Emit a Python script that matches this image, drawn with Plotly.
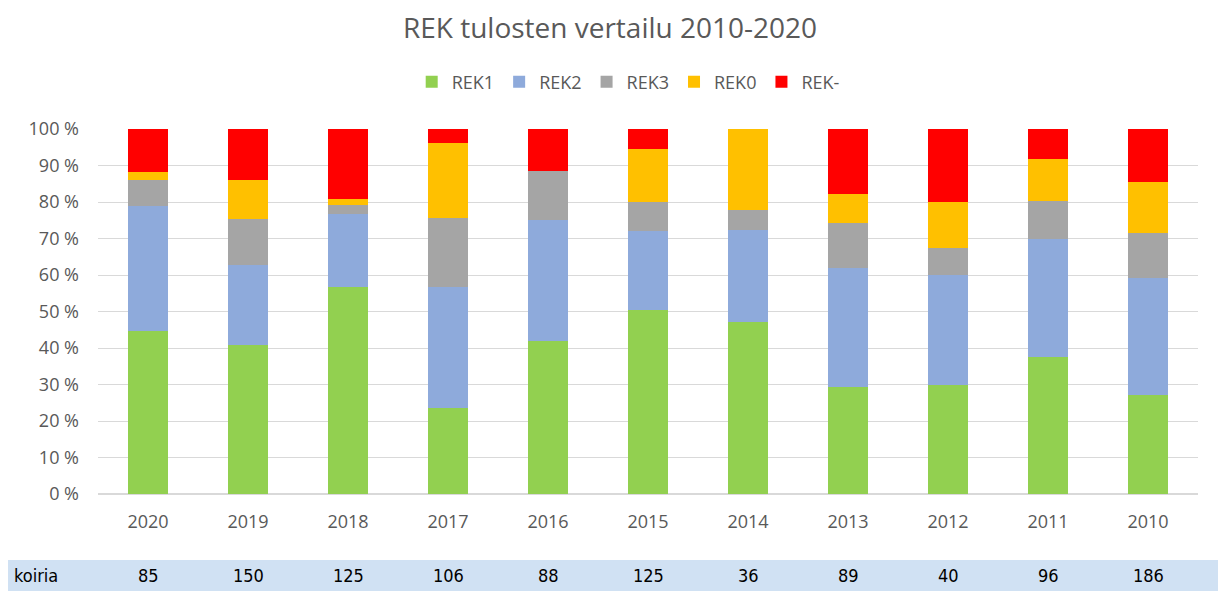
import plotly.graph_objects as go

# years shown left to right
years = ["2020", "2019", "2018", "2017", "2016", "2015", "2014", "2013", "2012", "2011", "2010"]
dogs = [85, 150, 125, 106, 88, 125, 36, 89, 40, 96, 186]

# share of results per year, percent
rek1 = [44.7, 40.7, 56.8, 23.6, 42.0, 50.4, 47.2, 29.2, 30.0, 37.5, 27.1]
rek2 = [34.1, 22.0, 20.0, 33.0, 33.0, 21.6, 25.0, 32.6, 30.0, 32.3, 32.0]
rek3 = [7.1, 12.7, 2.4, 18.9, 13.6, 8.0, 5.6, 12.4, 7.5, 10.4, 12.4]
rek0 = [2.4, 10.7, 1.6, 20.7, 0.0, 14.4, 22.2, 7.9, 12.5, 11.5, 14.0]
rek_minus = [11.8, 14.0, 19.2, 3.8, 11.4, 5.6, 0.0, 18.0, 20.0, 8.3, 14.5]

y_ticks = list(range(0, 101, 10))
y_labels = [f"{v} %" for v in y_ticks]

series = [
    ("REK1", rek1, "#92d050"),
    ("REK2", rek2, "#8eaadb"),
    ("REK3", rek3, "#a5a5a5"),
    ("REK0", rek0, "#ffc000"),
    ("REK-", rek_minus, "#ff0000"),
]

txt = "#595959"
cell_font = dict(
    family="Liberation Sans Narrow, DejaVu Sans Condensed, Liberation Sans, sans-serif",
    size=18, color="#000000",
)

fig = go.Figure()
for name, vals, col in series:
    fig.add_trace(
        go.Bar(
            x=years,
            y=vals,
            name=name,
            marker=dict(color=col, line=dict(width=0)),
            width=0.4,
        )
    )

# bottom table with number of dogs
fig.add_shape(
    type="rect", xref="paper", yref="paper",
    x0=-0.1, x1=1.03, y0=-97 / 365, y1=-66 / 365,
    fillcolor="#d0e1f3", line=dict(width=0), layer="below",
)
fig.add_annotation(
    text="koiria", xref="paper", yref="paper", x=-86 / 1100, y=-81 / 365,
    xanchor="left", yanchor="middle", showarrow=False, font=cell_font,
)
for i, n in enumerate(dogs):
    fig.add_annotation(
        text=str(n), x=i, xref="x", yref="paper", y=-81 / 365,
        xanchor="center", yanchor="middle", showarrow=False, font=cell_font,
    )

fig.update_layout(
    barmode="stack",
    width=1218,
    height=583,
    margin=dict(l=90, r=28, t=121, b=97),
    paper_bgcolor="white",
    plot_bgcolor="white",
    font=dict(family="Open Sans, sans-serif", color=txt),
    title=dict(
        text="REK tulosten vertailu 2010-2020",
        x=602 / 1218, xanchor="center", xref="container",
        y=1 - 20 / 583, yanchor="middle", yref="container",
        font=dict(size=28, color=txt),
    ),
    legend=dict(
        orientation="h", x=0.482, xanchor="center", y=(486 - 74) / 365, yanchor="middle",
        traceorder="normal", font=dict(size=18, color=txt),
        itemwidth=30,
    ),
    showlegend=True,
)
fig.update_xaxes(
    type="category", range=[-0.5, 10.5], showgrid=False, ticks="",
    tickfont=dict(size=18, color=txt), showline=False, ticklabelstandoff=15,
)
fig.update_yaxes(
    range=[0, 100], tickvals=y_ticks, ticktext=y_labels,
    showgrid=True, gridcolor="#d9d9d9", gridwidth=1, zeroline=True,
    zerolinecolor="#d9d9d9", tickfont=dict(size=18, color=txt), ticks="",
    ticklabelstandoff=18,
)

fig.write_html("out.html")
